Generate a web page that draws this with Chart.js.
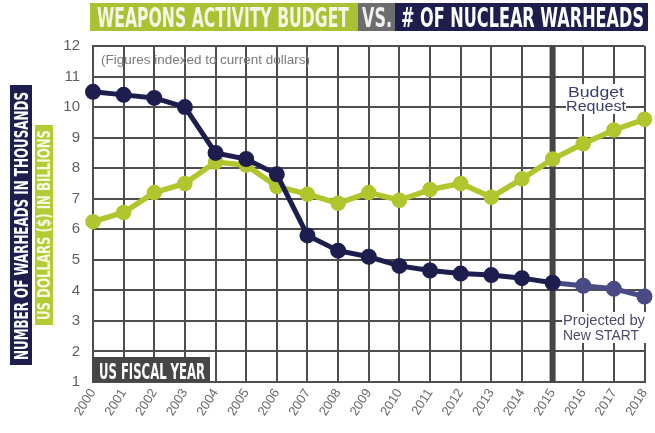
<!DOCTYPE html>
<html>
<head>
<meta charset="utf-8">
<script src="https://cdn.jsdelivr.net/npm/chart.js@4/dist/chart.umd.min.js"></script>
<style>
html,body{margin:0;padding:0;background:#fff;}
#wrap{width:655px;height:433px;position:relative;}
</style>
</head>
<body>
<div id="wrap"><canvas id="c" width="655" height="433"></canvas></div>
<script>
const years = ['2000','2001','2002','2003','2004','2005','2006','2007','2008','2009','2010','2011','2012','2013','2014','2015','2016','2017','2018'];
const warheadsThousands = [10.5, 10.4, 10.3, 10.0, 8.5, 8.3, 7.8, 5.8, 5.3, 5.1, 4.8, 4.65, 4.55, 4.5, 4.4, 4.25, 4.15, 4.05, 3.8];
const budgetBillions = [6.25, 6.55, 7.2, 7.5, 8.2, 8.1, 7.4, 7.15, 6.85, 7.2, 6.95, 7.3, 7.5, 7.05, 7.65, 8.3, 8.8, 9.25, 9.6];
const yTicks = [1,2,3,4,5,6,7,8,9,10,11,12];
const projectionStartYear = '2015';

const NAVY = '#1d1e4e';
const NAVY_LIGHT = '#4a4a86';
const GREEN = '#b1c62e';
const GRID = '#4e4e4e';
const NARROW = '"Liberation Sans Narrow","DejaVu Sans Condensed",sans-serif';

function fitText(ctx, text, x, y, w, font, color) {
  ctx.save();
  ctx.font = font;
  ctx.fillStyle = color;
  ctx.textBaseline = 'alphabetic';
  ctx.textAlign = 'left';
  const m = ctx.measureText(text).width;
  ctx.translate(x, y);
  ctx.scale(w / m, 1);
  ctx.fillText(text, 0, 0);
  ctx.restore();
}

const projIdx = years.indexOf(projectionStartYear);

const decor = {
  id: 'decor',
  beforeDraw(chart) {
    const ctx = chart.ctx;
    ctx.save();
    ctx.fillStyle = '#fff';
    ctx.fillRect(0, 0, chart.width, chart.height);
    // Title bands
    ctx.fillStyle = '#a9c234'; ctx.fillRect(90, 3, 268, 28);
    ctx.fillStyle = '#6d6d6d'; ctx.fillRect(358, 3, 37, 28);
    ctx.fillStyle = NAVY; ctx.fillRect(395, 3, 253, 28);
    fitText(ctx, 'WEAPONS ACTIVITY BUDGET', 97, 27, 252, 'bold 27px ' + NARROW, '#f4f7e6');
    fitText(ctx, 'VS.', 362, 27, 30, 'bold 27px ' + NARROW, '#f0f0f0');
    fitText(ctx, '# OF NUCLEAR WARHEADS', 401, 27, 243, 'bold 27px ' + NARROW, '#ffffff');
    // Left rotated axis titles
    ctx.fillStyle = NAVY; ctx.fillRect(10, 85, 22, 280);
    ctx.fillStyle = '#b4cb36'; ctx.fillRect(35, 125, 18, 200);
    ctx.save();
    ctx.translate(28, 360); ctx.rotate(-Math.PI / 2);
    fitText(ctx, 'NUMBER OF WARHEADS IN THOUSANDS', 0, 0, 268, 'bold 20px ' + NARROW, '#ffffff');
    ctx.restore();
    ctx.save();
    ctx.translate(50, 320); ctx.rotate(-Math.PI / 2);
    fitText(ctx, 'US DOLLARS ($) IN BILLIONS', 0, 0, 190, 'bold 18px ' + NARROW, '#f6f9e4');
    ctx.restore();
    ctx.restore();
  },
  beforeDatasetsDraw(chart) {
    const ctx = chart.ctx;
    const xs = chart.scales.x, ca = chart.chartArea;
    const x15 = xs.getPixelForValue(projIdx);
    ctx.save();
    ctx.fillStyle = '#fff';
    ctx.fillRect(567, 84, 58, 14);
    ctx.fillRect(566, 99, 60, 15);
    ctx.fillRect(562, 312, 84, 31);
    fitText(ctx, 'Budget', 568, 97, 56, '15px "Liberation Sans", Arial, sans-serif', '#3d3d6b');
    fitText(ctx, 'Request', 566, 111, 60, '15px "Liberation Sans", Arial, sans-serif', '#3d3d6b');
    fitText(ctx, 'Projected by', 563, 325, 82, '14px "Liberation Sans", Arial, sans-serif', '#4b4b6b');
    fitText(ctx, 'New START', 563, 340, 76, '14px "Liberation Sans", Arial, sans-serif', '#4b4b6b');
    fitText(ctx, '(Figures indexed to current dollars)', 101, 64, 209, '12px "Liberation Sans", Arial, sans-serif', '#7a7a7a');
    ctx.fillStyle = '#454545';
    ctx.fillRect(x15 - 3, ca.top, 6, ca.bottom - ca.top);
    ctx.restore();
  },
  afterDatasetsDraw(chart) {
    const ctx = chart.ctx;
    ctx.save();
    ctx.fillStyle = '#464646';
    ctx.fillRect(92, 357, 118, 25);
    fitText(ctx, 'US FISCAL YEAR', 99, 379, 106, 'bold 22px ' + NARROW, '#ffffff');
    ctx.restore();
  }
};

new Chart(document.getElementById('c'), {
  type: 'line',
  data: {
    labels: years,
    datasets: [
      {
        label: 'Number of warheads (thousands)',
        data: warheadsThousands,
        borderColor: NAVY,
        backgroundColor: NAVY,
        borderWidth: 5,
        pointRadius: 5.5,
        pointHoverRadius: 5.5,
        pointBackgroundColor: (c) => c.dataIndex > projIdx ? NAVY_LIGHT : NAVY,
        pointBorderColor: (c) => c.dataIndex > projIdx ? NAVY_LIGHT : NAVY,
        segment: {
          borderColor: (s) => s.p0DataIndex >= projIdx ? NAVY_LIGHT : NAVY
        },
        tension: 0,
        order: 0
      },
      {
        label: 'Weapons activity budget (billions)',
        data: budgetBillions,
        borderColor: GREEN,
        backgroundColor: GREEN,
        borderWidth: 5.5,
        pointRadius: 5,
        pointHoverRadius: 5,
        pointBackgroundColor: GREEN,
        pointBorderColor: GREEN,
        tension: 0,
        order: 1
      }
    ]
  },
  options: {
    responsive: false,
    animation: false,
    events: [],
    layout: { padding: { top: 46, right: 4, left: 0, bottom: 0 } },
    plugins: { legend: { display: false }, tooltip: { enabled: false }, title: { display: false } },
    scales: {
      x: {
        type: 'category',
        offset: false,
        grid: { color: GRID, lineWidth: 2, drawTicks: false },
        border: { color: GRID, width: 2 },
        ticks: {
          minRotation: 58, maxRotation: 58, autoSkip: false, padding: 4,
          color: '#6a6a6a', font: { family: '"Liberation Sans", Arial, sans-serif', size: 13 }
        },
        afterFit(s) { s.height = 51; s.paddingLeft = 0; s.paddingRight = 0; }
      },
      y: {
        min: 1, max: 12,
        afterBuildTicks(s) { s.ticks = yTicks.map(v => ({ value: v })); },
        grid: { color: GRID, lineWidth: 2, drawTicks: false },
        border: { color: GRID, width: 2 },
        ticks: {
          padding: 13, color: '#5f5f5f',
          font: { family: '"Liberation Sans", Arial, sans-serif', size: 15 }
        },
        afterFit(s) { s.width = 93; }
      }
    }
  },
  plugins: [decor]
});
</script>
</body>
</html>
